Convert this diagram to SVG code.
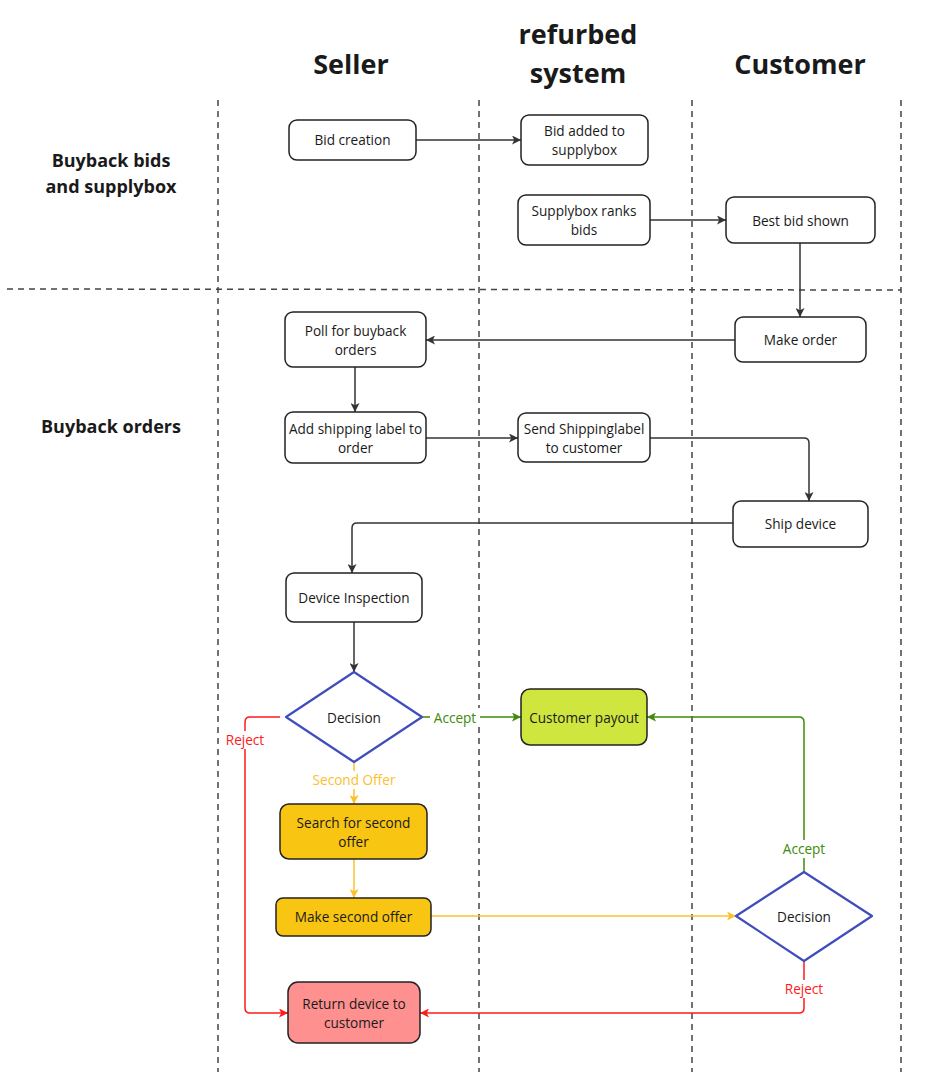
<svg xmlns="http://www.w3.org/2000/svg" width="931" height="1072" viewBox="0 0 931 1072">
<defs>
<style>
.lane{stroke:#444;stroke-width:1.5;stroke-dasharray:6 5;fill:none}
.box{fill:#fff;stroke:#222;stroke-width:1.5}
.dia{fill:#fff;stroke:#3f4dbd;stroke-width:2.2;stroke-linejoin:round}
.t{font-family:"Open Sans","Noto Sans",sans-serif;font-size:13.6px;fill:#1a1a1a;text-anchor:middle}
.h{font-family:"Open Sans","Noto Sans",sans-serif;font-weight:bold;font-size:27px;fill:#1a1a1a;text-anchor:middle}
.r{font-family:"Open Sans","Noto Sans",sans-serif;font-weight:bold;font-size:18px;fill:#1a1a1a;text-anchor:middle}
.c{fill:none;stroke-width:1.5;stroke-linejoin:round}
.k{stroke:#333}
.g{stroke:#3e8a0a}
.y{stroke:#fbc02d}
.rd{stroke:#ff1a1a}
.lbl{font-family:"Open Sans","Noto Sans",sans-serif;font-size:13.6px;text-anchor:middle}
</style>
<marker id="ak" viewBox="0 0 10 10" refX="10" refY="5" markerWidth="9" markerHeight="9" markerUnits="userSpaceOnUse" orient="auto"><path d="M0,0 L10,5 L0,10 L2.5,5 z" fill="#333"/></marker>
<marker id="ag" viewBox="0 0 10 10" refX="10" refY="5" markerWidth="9" markerHeight="9" markerUnits="userSpaceOnUse" orient="auto"><path d="M0,0 L10,5 L0,10 L2.5,5 z" fill="#3e8a0a"/></marker>
<marker id="ay" viewBox="0 0 10 10" refX="10" refY="5" markerWidth="9" markerHeight="9" markerUnits="userSpaceOnUse" orient="auto"><path d="M0,0 L10,5 L0,10 L2.5,5 z" fill="#fbc02d"/></marker>
<marker id="ar" viewBox="0 0 10 10" refX="10" refY="5" markerWidth="9" markerHeight="9" markerUnits="userSpaceOnUse" orient="auto"><path d="M0,0 L10,5 L0,10 L2.5,5 z" fill="#ff1a1a"/></marker>
</defs>
<rect width="931" height="1072" fill="#fff"/>
<g id="lanes">
<line class="lane" x1="218" y1="100" x2="218" y2="1072"/>
<line class="lane" x1="479" y1="100" x2="479" y2="1072"/>
<line class="lane" x1="692" y1="100" x2="692" y2="1072"/>
<line class="lane" x1="901" y1="100" x2="901" y2="1072"/>
<line class="lane" x1="7" y1="289" x2="901" y2="290"/>
</g>
<g id="headers">
<text class="h" x="351" y="74">Seller</text>
<text class="h" x="578" y="44">refurbed</text>
<text class="h" x="578" y="83">system</text>
<text class="h" x="800" y="74">Customer</text>
<text class="r" x="111" y="167">Buyback bids</text>
<text class="r" x="111" y="193">and supplybox</text>
<text class="r" x="111" y="433">Buyback orders</text>
</g>
<g id="connectors">
<path class="c k" d="M416,140 H521" marker-end="url(#ak)"/>
<path class="c k" d="M650,220 H726" marker-end="url(#ak)"/>
<path class="c k" d="M800,243 V317" marker-end="url(#ak)"/>
<path class="c k" d="M735,340 H426" marker-end="url(#ak)"/>
<path class="c k" d="M355,367 V412" marker-end="url(#ak)"/>
<path class="c k" d="M426,438 H518" marker-end="url(#ak)"/>
<path class="c k" d="M650,438 H804 Q809,438 809,443 V501" marker-end="url(#ak)"/>
<path class="c k" d="M733,523 H357 Q352,523 352,528 V573" marker-end="url(#ak)"/>
<path class="c k" d="M354,622 V672" marker-end="url(#ak)"/>
<path class="c g" d="M422,717 H521" marker-end="url(#ag)"/>
<path class="c rd" d="M280,717 H250 Q245,717 245,722 V1008 Q245,1013 250,1013 H288" marker-end="url(#ar)"/>
<path class="c y" d="M354,762 V804" marker-end="url(#ay)"/>
<path class="c y" d="M354,859 V898" marker-end="url(#ay)"/>
<path class="c y" d="M431,916 H736" marker-end="url(#ay)"/>
<path class="c g" d="M804,872 V722 Q804,717 799,717 H647" marker-end="url(#ag)"/>
<path class="c rd" d="M804,961 V1008 Q804,1013 799,1013 H420" marker-end="url(#ar)"/>
<rect x="430" y="708" width="50" height="18" fill="#fff"/>
<text class="lbl" x="455" y="723" fill="#3e8a0a">Accept</text>
<rect x="222" y="731" width="46" height="18" fill="#fff"/>
<text class="lbl" x="245" y="745" fill="#ff1a1a">Reject</text>
<rect x="310" y="771" width="88" height="18" fill="#fff"/>
<text class="lbl" x="354" y="785" fill="#fbc02d">Second Offer</text>
<rect x="780" y="840" width="48" height="18" fill="#fff"/>
<text class="lbl" x="804" y="854" fill="#3e8a0a">Accept</text>
<rect x="782" y="980" width="44" height="18" fill="#fff"/>
<text class="lbl" x="804" y="994" fill="#ff1a1a">Reject</text>
</g>
<g id="bid-creation"><rect class="box" x="289" y="120" width="127" height="40" rx="8"/><text class="t" x="352.5" y="145">Bid creation</text></g>
<g id="bid-added"><rect class="box" x="521" y="115" width="127" height="50" rx="8"/><text class="t" x="584.5" y="136">Bid added to</text><text class="t" x="584.5" y="155">supplybox</text></g>
<g id="supplybox-ranks"><rect class="box" x="518" y="195" width="132" height="50" rx="8"/><text class="t" x="584" y="216">Supplybox ranks</text><text class="t" x="584" y="235">bids</text></g>
<g id="best-bid"><rect class="box" x="726" y="197" width="149" height="46" rx="8"/><text class="t" x="800.5" y="226">Best bid shown</text></g>
<g id="make-order"><rect class="box" x="735" y="317" width="131" height="45" rx="8"/><text class="t" x="800.5" y="345">Make order</text></g>
<g id="poll"><rect class="box" x="285" y="312" width="141" height="55" rx="8"/><text class="t" x="355.5" y="336">Poll for buyback</text><text class="t" x="355.5" y="355">orders</text></g>
<g id="add-shipping"><rect class="box" x="285" y="412" width="141" height="51" rx="8"/><text class="t" x="355.5" y="434">Add shipping label to</text><text class="t" x="355.5" y="453">order</text></g>
<g id="send-shipping"><rect class="box" x="518" y="413" width="132" height="49" rx="8"/><text class="t" x="584" y="434">Send Shippinglabel</text><text class="t" x="584" y="453">to customer</text></g>
<g id="ship-device"><rect class="box" x="733" y="501" width="135" height="46" rx="8"/><text class="t" x="800.5" y="529">Ship device</text></g>
<g id="device-inspection"><rect class="box" x="286" y="573" width="136" height="49" rx="8"/><text class="t" x="354" y="603">Device Inspection</text></g>
<g id="decision-1"><path class="dia" d="M354,672 L422,717 L354,762 L286,717 Z"/><text class="t" x="354" y="723">Decision</text></g>
<g id="customer-payout"><rect x="521" y="689" width="126" height="56" rx="9" fill="#cfe63e" stroke="#222" stroke-width="1.5"/><text class="t" x="584" y="723">Customer payout</text></g>
<g id="search-second"><rect x="280" y="804" width="147" height="55" rx="9" fill="#f8c612" stroke="#222" stroke-width="1.5"/><text class="t" x="353.5" y="828">Search for second</text><text class="t" x="353.5" y="847">offer</text></g>
<g id="make-second"><rect x="276" y="898" width="155" height="38" rx="7" fill="#f8c612" stroke="#222" stroke-width="1.5"/><text class="t" x="353.5" y="922">Make second offer</text></g>
<g id="decision-2"><path class="dia" d="M804,872 L872,916 L804,961 L736,916 Z"/><text class="t" x="804" y="922">Decision</text></g>
<g id="return-device"><rect x="288" y="982" width="132" height="61" rx="10" fill="#ff9090" stroke="#222" stroke-width="1.5"/><text class="t" x="354" y="1009">Return device to</text><text class="t" x="354" y="1028">customer</text></g>
</svg>
